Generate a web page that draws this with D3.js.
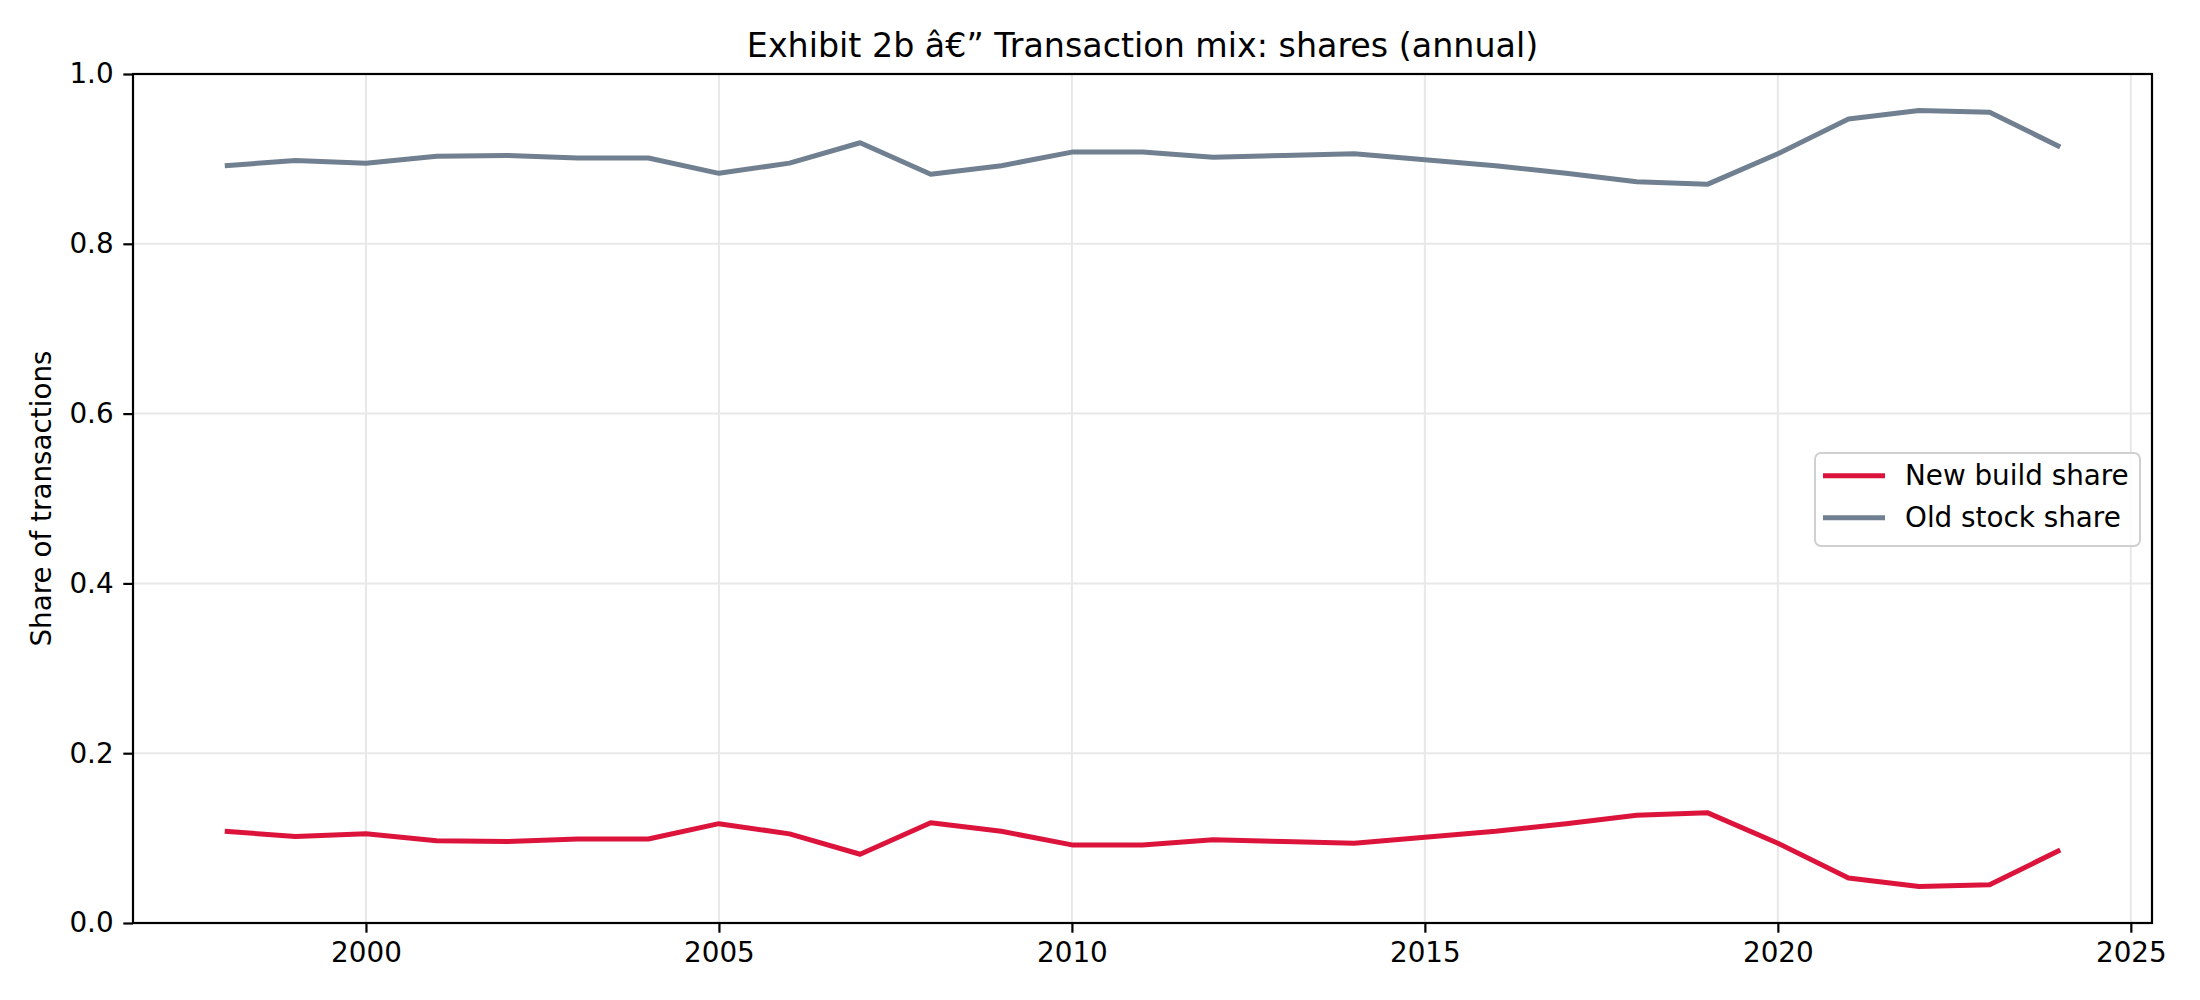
<!DOCTYPE html>
<html>
<head>
<meta charset="utf-8">
<script src="https://cdn.jsdelivr.net/npm/d3@7"></script>
<style>
	body { margin: 0; background: #fff; }
	svg text { font-family: "DejaVu Sans", sans-serif; }
</style>
</head>
<body>
<script>
const w = 2200;
const h = 1000;
const margin = { top: 74, right: 48, bottom: 77, left: 133 };

const years = [1998, 1999, 2000, 2001, 2002, 2003, 2004, 2005, 2006, 2007, 2008, 2009, 2010,
	2011, 2012, 2013, 2014, 2015, 2016, 2017, 2018, 2019, 2020, 2021, 2022, 2023, 2024];
const newBuild = [0.108, 0.102, 0.105, 0.097, 0.096, 0.099, 0.099, 0.117, 0.105, 0.081, 0.118, 0.108, 0.092,
	0.092, 0.098, 0.096, 0.094, 0.101, 0.108, 0.117, 0.127, 0.130, 0.094, 0.053, 0.043, 0.045, 0.086];
const oldStock = [0.892, 0.898, 0.895, 0.903, 0.904, 0.901, 0.901, 0.883, 0.895, 0.919, 0.882, 0.892, 0.908,
	0.908, 0.902, 0.904, 0.906, 0.899, 0.892, 0.883, 0.873, 0.870, 0.906, 0.947, 0.957, 0.955, 0.914];
const xTicks = [2000, 2005, 2010, 2015, 2020, 2025];
const yTicks = [0.0, 0.2, 0.4, 0.6, 0.8, 1.0];
const seriesNames = ["New build share", "Old stock share"];
const seriesColors = ["#DC143C", "#708090"];
const title = "Exhibit 2b \u00e2\u20ac\u201d Transaction mix: shares (annual)";
const yLabel = "Share of transactions";

const fs = 27.8;
const svg = d3.select("body").append("svg").attr("width", w).attr("height", h);

// * SCALES
const xPad = (years[years.length - 1] - years[0]) * 0.05;
const xScale = d3.scaleLinear()
	.domain([years[0] - xPad, years[years.length - 1] + xPad])
	.range([margin.left, w - margin.right]);
const yScale = d3.scaleLinear()
	.domain([0, 1])
	.range([h - margin.bottom, margin.top]);

// * GRID
const grid = svg.append("g").attr("stroke", "#e8e8e8").attr("stroke-width", 2);
grid.selectAll(".gx").data(xTicks).enter().append("line")
	.attr("x1", (d) => xScale(d)).attr("x2", (d) => xScale(d))
	.attr("y1", margin.top).attr("y2", h - margin.bottom);
grid.selectAll(".gy").data(yTicks).enter().append("line")
	.attr("x1", margin.left).attr("x2", w - margin.right)
	.attr("y1", (d) => yScale(d)).attr("y2", (d) => yScale(d));

// * LINES
const series = [newBuild, oldStock];
const line = d3.line().x((d, i) => xScale(years[i])).y((d) => yScale(d));
series.forEach((vals, k) => {
	svg.append("path")
		.datum(vals)
		.attr("d", line)
		.attr("fill", "none")
		.attr("stroke", seriesColors[k])
		.attr("stroke-width", 5)
		.attr("stroke-linejoin", "round")
		.attr("stroke-linecap", "butt");
});

// * AXES
const xAxis = d3.axisBottom(xScale).tickValues(xTicks).tickFormat(d3.format("d"))
	.tickSize(9.7).tickPadding(9.7);
const gx = svg.append("g")
	.attr("transform", "translate(0," + (h - margin.bottom) + ")")
	.call(xAxis);
const yAxis = d3.axisLeft(yScale).tickValues(yTicks).tickFormat(d3.format(".1f"))
	.tickSize(9.7).tickPadding(9.7);
const gy = svg.append("g")
	.attr("transform", "translate(" + margin.left + ",0)")
	.call(yAxis);
[gx, gy].forEach((g) => {
	g.select(".domain").remove();
	g.selectAll(".tick line").attr("stroke", "#000").attr("stroke-width", 2.2);
	g.selectAll(".tick text").attr("fill", "#000").style("font-size", fs + "px")
		.style("font-family", "DejaVu Sans");
});

// * SPINES
svg.append("rect")
	.attr("x", margin.left).attr("y", margin.top)
	.attr("width", w - margin.left - margin.right)
	.attr("height", h - margin.top - margin.bottom)
	.attr("fill", "none").attr("stroke", "#000").attr("stroke-width", 2.2);

// * TITLE & LABELS
svg.append("text")
	.attr("x", (margin.left + w - margin.right) / 2)
	.attr("y", margin.top - 17)
	.attr("text-anchor", "middle")
	.style("font-size", "33.3px")
	.text(title);
svg.append("text")
	.attr("transform", "translate(41," + (margin.top + h - margin.bottom) / 2 + ") rotate(-90)")
	.attr("text-anchor", "middle")
	.attr("dy", "0.35em")
	.style("font-size", fs + "px")
	.text(yLabel);

// * LEGEND
const legend = svg.append("g").attr("transform", "translate(1815,453)");
legend.append("rect")
	.attr("width", 325).attr("height", 93)
	.attr("rx", 6).attr("ry", 6)
	.attr("fill", "#fff").attr("fill-opacity", 0.8)
	.attr("stroke", "#d0d0d0").attr("stroke-width", 2);
const items = legend.selectAll(".item").data(seriesNames).enter().append("g")
	.attr("transform", (d, i) => "translate(0," + (22.7 + i * 42) + ")");
items.append("line")
	.attr("x1", 8).attr("x2", 70)
	.attr("stroke", (d, i) => seriesColors[i])
	.attr("stroke-width", 5);
items.append("text")
	.attr("x", 90).attr("dy", "0.35em")
	.style("font-size", fs + "px")
	.text((d) => d);
</script>
</body>
</html>
